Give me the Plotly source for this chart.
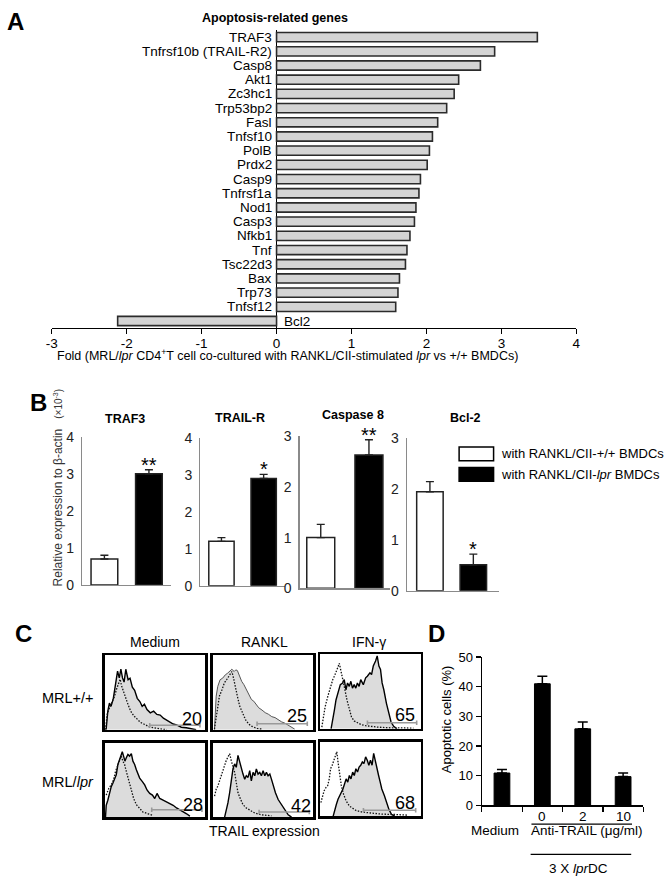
import plotly.graph_objects as go

W, H = 668, 888
FONT = "Liberation Sans, Arial, sans-serif"
NARROW = "Liberation Sans Narrow, Arial Narrow, Liberation Sans, sans-serif"


def px(x):
    return x / W


def py(y):
    return 1 - y / H


# ---------------- Panel A data ----------------
genes = ["TRAF3", "Tnfrsf10b (TRAIL-R2)", "Casp8", "Akt1", "Zc3hc1", "Trp53bp2", "Fasl",
         "Tnfsf10", "PolB", "Prdx2", "Casp9", "Tnfrsf1a", "Nod1", "Casp3", "Nfkb1", "Tnf",
         "Tsc22d3", "Bax", "Trp73", "Tnfsf12", "Bcl2"]
fold = [3.48, 2.91, 2.72, 2.43, 2.37, 2.27, 2.15, 2.08, 2.04, 2.01, 1.92, 1.90, 1.86, 1.84,
        1.78, 1.74, 1.72, 1.64, 1.62, 1.59, -2.12]
a_ticks = [-3, -2, -1, 0, 1, 2, 3, 4]

# ---------------- Panel B data ----------------
b_groups = ["TRAF3", "TRAIL-R", "Caspase 8", "Bcl-2"]
b_wt = [0.70, 1.20, 1.00, 1.94]
b_wt_err = [0.10, 0.10, 0.26, 0.20]
b_lpr = [3.00, 2.90, 2.63, 0.51]
b_lpr_err = [0.11, 0.11, 0.30, 0.21]
b_sig = ["**", "*", "**", "*"]
b_ymax = [4, 4, 3, 3]
b_legend = ["with RANKL/CII-+/+ BMDCs", "with RANKL/CII-<i>lpr</i> BMDCs"]

# ---------------- Panel C data (histogram outlines, % of box) ----------------
c_cols = ["Medium", "RANKL", "IFN-γ"]
c_rows = ["MRL+/+", "MRL/<i>lpr</i>"]
c_pct = [20, 25, 65, 28, 42, 68]

c_med_wt_solid_x = [1.6, 3.3, 4.9, 6.5, 8.8, 10.7, 13.0, 14.7, 16.3, 17.9, 19.5, 21.2, 23.5, 25.4, 27.7, 30.0, 32.6,
                    35.2, 37.5, 39.7, 42.3, 45.6, 48.9, 52.1, 55.4, 58.6, 61.9, 65.1, 68.4, 71.7, 76.5, 81.4, 86.3, 91.2]
c_med_wt_solid_y = [0, 24.9, 35.6, 31.3, 42.1, 59.2, 78.5, 69.5, 81.1, 69.5, 63.9, 81.1, 67.0, 69.1, 57.1, 52.8, 42.1,
                    37.8, 31.3, 34.3, 27.0, 22.7, 24.9, 20.6, 19.7, 15.5, 12.9, 11.2, 7.7, 6.4, 3.4, 2.6, 0.9, 0]
c_med_wt_dot_x = [1.0, 2.6, 4.9, 7.2, 9.8, 12.1, 14.0, 15.6, 16.9, 18.9, 21.2, 23.5, 26.1, 29.3, 32.6, 35.8, 39.1,
                  44.0, 48.9, 55.4, 61.9]
c_med_wt_dot_y = [0, 20.6, 29.2, 35.6, 44.2, 54.9, 63.5, 67.8, 59.2, 50.6, 42.1, 33.5, 24.9, 18.5, 14.2, 9.9, 7.7,
                  4.3, 2.6, 0.9, 0]

c_rankl_wt_solid_x = [1.6, 3.3, 4.9, 7.2, 9.8, 12.4, 14.7, 16.3, 18.9, 21.2, 22.8, 24.4, 26.7, 28.7, 30.9, 33.2, 35.8,
                      38.4, 40.7, 43.0, 45.6, 48.9, 52.1, 55.4, 58.6, 61.9, 65.1, 68.4, 71.7, 74.9, 78.2, 81.4]
c_rankl_wt_solid_y = [0, 44.9, 58.1, 67.0, 69.2, 73.6, 75.8, 78.0, 81.1, 78.0, 80.2, 79.3, 71.4, 64.8, 60.4, 53.7,
                      47.1, 40.5, 38.3, 33.9, 29.5, 26.4, 22.9, 20.7, 17.6, 16.3, 13.2, 10.6, 8.8, 6.2, 3.1, 0.9]
c_rankl_wt_dot_x = [1.6, 3.9, 6.5, 9.1, 11.4, 13.7, 15.6, 17.3, 18.9, 20.2, 22.1, 24.4, 26.7, 29.3, 32.6, 35.8,
                    39.1, 44.0, 48.9]
c_rankl_wt_dot_y = [0.9, 22.9, 44.9, 53.7, 62.6, 67.0, 71.4, 75.8, 78.0, 71.4, 58.1, 44.9, 31.7, 22.9, 13.2, 7.5,
                    4.4, 1.8, 0.9]

c_ifn_wt_solid_x = [10.8, 12.5, 14.1, 15.7, 18.0, 20.0, 22.3, 23.9, 25.6, 27.2, 28.9, 30.5, 32.1, 33.8, 35.4, 37.0,
                    38.7, 40.3, 42.9, 45.2, 46.9, 49.5, 51.1, 52.8, 55.1, 56.7, 58.4, 60.0, 61.6, 63.3, 65.9, 68.2,
                    70.5, 73.1, 76.4]
c_ifn_wt_solid_y = [0, 11.4, 25.0, 38.6, 50.0, 59.1, 61.4, 65.9, 52.3, 61.4, 56.8, 63.6, 54.5, 59.1, 54.5, 61.4,
                    56.8, 65.9, 59.1, 68.2, 70.5, 75.0, 72.7, 84.1, 90.9, 97.7, 84.1, 79.5, 61.4, 52.3, 34.1, 20.5,
                    9.1, 3.2, 0]
c_ifn_wt_dot_x = [1.6, 3.0, 4.9, 7.5, 10.2, 12.5, 14.1, 15.7, 17.4, 19.0, 20.7, 22.3, 23.9, 26.6, 28.9, 31.1, 33.8,
                  37.0, 40.3, 45.2, 50.2, 56.7, 66.6, 79.7, 92.8]
c_ifn_wt_dot_y = [2.3, 15.9, 29.5, 43.2, 56.8, 65.9, 70.5, 75.0, 81.8, 87.7, 75.0, 65.9, 56.8, 38.6, 25.0, 15.9,
                  10.5, 7.7, 5.9, 4.1, 3.2, 2.3, 1.4, 1.4, 0.9]

c_med_lpr_solid_x = [1.0, 1.7, 3.3, 5.0, 6.7, 8.3, 10.0, 11.7, 13.3, 15.0, 16.7, 17.7, 19.0, 20.3, 21.7, 23.3, 25.0,
                     26.7, 28.3, 30.0, 31.7, 33.3, 35.0, 37.7, 40.0, 42.3, 45.0, 47.7, 50.0, 52.3, 55.0, 58.3, 61.7,
                     65.0, 68.3, 71.7, 75.0, 78.3, 81.7, 85.0]
c_med_lpr_solid_y = [0, 15.9, 22.7, 34.1, 40.9, 45.5, 52.3, 56.8, 70.5, 77.3, 85.0, 87.7, 81.8, 75.0, 79.5, 84.1,
                     81.8, 85.0, 75.0, 70.5, 63.6, 59.1, 52.3, 47.7, 43.2, 36.4, 31.8, 29.5, 25.0, 31.8, 25.0, 22.7,
                     20.5, 18.2, 15.9, 12.3, 10.0, 6.8, 4.5, 1.4]
c_med_lpr_dot_x = [1.7, 4.3, 6.7, 9.0, 11.0, 13.3, 15.0, 16.7, 18.3, 20.0, 21.7, 24.3, 26.7, 29.0, 31.7, 35.0, 38.3,
                   43.3, 48.3]
c_med_lpr_dot_y = [29.5, 38.6, 43.2, 50.0, 61.4, 70.5, 77.3, 81.8, 75.0, 70.5, 61.4, 47.7, 34.1, 25.0, 16.8, 11.4,
                   6.8, 4.5, 2.3]

c_rankl_lpr_solid_x = [11.7, 13.3, 15.0, 16.7, 18.3, 20.0, 21.7, 23.3, 25.0, 26.7, 28.3, 30.0, 31.7, 33.3, 35.0,
                       36.7, 38.3, 40.0, 41.7, 43.3, 45.0, 46.7, 48.3, 50.0, 51.7, 53.3, 55.0, 56.7, 58.3, 60.0,
                       62.3, 65.0, 68.3, 71.7, 75.0, 78.3]
c_rankl_lpr_solid_y = [0, 7.7, 19.1, 32.7, 46.4, 64.5, 71.4, 66.8, 82.7, 73.6, 64.5, 57.7, 50.9, 55.5, 53.2, 62.3,
                       48.6, 60.0, 55.5, 64.5, 57.7, 60.0, 55.5, 62.3, 55.5, 60.0, 55.5, 57.7, 50.9, 41.8, 32.7,
                       23.6, 16.8, 10.0, 3.2, 0]
c_rankl_lpr_dot_x = [1.7, 3.3, 5.0, 6.7, 8.3, 10.0, 11.7, 13.3, 15.0, 16.7, 18.3, 20.0, 21.7, 23.3, 25.0, 27.7,
                     30.0, 33.3, 36.7, 41.7, 48.3, 58.3]
c_rankl_lpr_dot_y = [28.2, 37.3, 41.8, 48.6, 55.5, 64.5, 69.1, 75.9, 80.5, 85.0, 75.9, 69.1, 60.0, 46.4, 32.7, 23.6,
                     16.8, 12.3, 9.1, 5.5, 3.2, 1.8]

c_ifn_lpr_solid_x = [12.9, 14.5, 16.1, 17.7, 19.4, 21.0, 22.6, 24.2, 25.8, 27.4, 29.0, 30.6, 32.3, 33.9, 35.5, 37.1,
                     38.7, 40.3, 41.9, 43.5, 45.2, 46.8, 48.4, 50.0, 51.6, 53.2, 54.8, 56.5, 58.1, 59.7, 61.3, 63.9,
                     66.1, 68.4, 71.0, 74.2]
c_ifn_lpr_solid_y = [0, 9.1, 15.9, 22.7, 27.3, 31.8, 36.4, 43.2, 50.0, 45.5, 54.5, 50.0, 59.1, 54.5, 63.6, 59.1,
                     65.9, 68.2, 72.7, 70.5, 79.5, 75.0, 68.2, 75.0, 68.2, 84.1, 72.7, 65.9, 54.5, 45.5, 36.4, 27.3,
                     18.2, 9.1, 2.3, 0]
c_ifn_lpr_dot_x = [0.6, 2.3, 3.9, 5.8, 7.4, 9.0, 10.3, 11.9, 13.5, 15.2, 16.5, 17.7, 19.4, 21.0, 23.2, 25.8, 29.0,
                   32.3, 35.5, 41.9, 51.6, 61.3, 74.2, 87.1]
c_ifn_lpr_dot_y = [18.2, 27.3, 34.1, 38.6, 40.9, 50.0, 63.6, 68.2, 75.0, 84.1, 86.4, 72.7, 54.5, 40.9, 29.5, 20.5,
                   13.6, 10.0, 7.7, 5.5, 3.6, 2.7, 2.3, 1.4]

c_gate_start = [45, 44, 47, 47, 46, 43]
c_gate_end = [95, 94, 96, 97, 96, 95]
c_gate_level = [6, 8, 8, 10, 7, 8]

# ---------------- Panel D data ----------------
d_labels = ["Medium", "0", "2", "10"]
d_vals = [10.9, 41.0, 25.8, 9.7]
d_err = [1.2, 2.5, 2.3, 1.2]
d_yticks = [0, 10, 20, 30, 40, 50]

fig = go.Figure()
annotations = []
shapes = []
layout_axes = {}


def ann(text, x, y, size=13, bold=False, xanchor="center", yanchor="middle", xref="paper", yref="paper",
        angle=0, color="black", xshift=0, yshift=0, family=FONT):
    if bold:
        text = "<b>" + text + "</b>"
    annotations.append(dict(text=text, x=x, y=y, xref=xref, yref=yref, showarrow=False,
                            xanchor=xanchor, yanchor=yanchor, textangle=angle, xshift=xshift, yshift=yshift,
                            font=dict(family=family, size=size, color=color)))


# ================= Panel A =================
idx = list(range(len(genes)))
fig.add_trace(go.Bar(x=fold, y=idx, orientation="h", width=0.65,
                     marker=dict(color="#d4d4d4", line=dict(color="#2b2b2b", width=1.6)),
                     xaxis="x", yaxis="y", showlegend=False, hoverinfo="skip"))
layout_axes["xaxis"] = dict(domain=[px(46.4), px(579)], range=[-3, 4], tickvals=a_ticks,
                            ticktext=[str(t) for t in a_ticks], ticks="outside", ticklen=5, tickwidth=1.3,
                            tickcolor="black", showline=True, linecolor="black", linewidth=1.3,
                            zeroline=True, zerolinecolor="black", zerolinewidth=1.5, showgrid=False,
                            tickfont=dict(family=FONT, size=13.5), anchor="y", ticklabelstandoff=-3)
layout_axes["yaxis"] = dict(domain=[py(326), py(22)], range=[20.5, -0.53], visible=False, anchor="x",
                            showgrid=False, zeroline=False)
for i, g in enumerate(genes):
    if fold[i] >= 0:
        ann(g, 0, i, size=13.5, xanchor="right", xref="x", yref="y", xshift=-3)
    else:
        ann(g, 0, i, size=13.5, xanchor="left", xref="x", yref="y", xshift=5)
ann("A", px(10), py(14), size=24, bold=True)
ann("Apoptosis-related genes", px(273.5), py(10), size=12.5, bold=True)
ann("Fold (MRL/<i>lpr</i> CD4<sup>+</sup>T cell co-cultured with RANKL/CII-stimulated <i>lpr</i> vs +/+ BMDCs)",
    px(286), py(353), size=12.5)

# ================= Panel B =================
b_xdom = [(77.3, 167.7), (197.3, 283), (298, 390), (407, 500)]
b_xrng = [(-0.5, 1.5), (-0.5, 1.5), (-0.44, 1.44), (-0.53, 1.58)]
b_ypx = [(436.7, 587.5), (437.7, 588.3), (436, 591), (437.7, 593.5)]
b_bw = [0.6, 0.6, 0.58, 0.61]
b_title_pos = [(121, 419), (238, 418), (352, 414), (466, 418)]
for k in range(4):
    n = k + 2
    xa, ya = "x%d" % n, "y%d" % n
    fig.add_trace(go.Bar(x=[0, 1], y=[b_wt[k], b_lpr[k]], width=b_bw[k],
                         marker=dict(color=["white", "black"], line=dict(color="#222", width=1.5)),
                         error_y=dict(type="data", symmetric=False, array=[b_wt_err[k], b_lpr_err[k]],
                                      arrayminus=[0, 0], width=4, thickness=1.4, color="#222"),
                         xaxis=xa, yaxis=ya, showlegend=False, hoverinfo="skip"))
    layout_axes["xaxis%d" % n] = dict(domain=[px(b_xdom[k][0]), px(b_xdom[k][1])], range=list(b_xrng[k]),
                                      showline=True, linecolor="#8a8a8a", linewidth=1.2, showticklabels=False,
                                      ticks="", showgrid=False, zeroline=False, anchor=ya)
    layout_axes["yaxis%d" % n] = dict(domain=[py(b_ypx[k][1]), py(b_ypx[k][0])], range=[0, b_ymax[k]],
                                      tickvals=list(range(b_ymax[k] + 1)), showline=True, linecolor="#8a8a8a",
                                      linewidth=1.2, ticks="", showgrid=False, zeroline=False,
                                      tickfont=dict(family=FONT, size=14, color="#222"), anchor=xa,
                                      ticklabelstandoff=4)
    ann(b_groups[k], px(b_title_pos[k][0]), py(b_title_pos[k][1]), size=12.5, bold=True)
    ann(b_sig[k], 1, b_lpr[k] + b_lpr_err[k], size=20, xref=xa, yref=ya, yanchor="bottom", yshift=-8)

ann("B", px(33), py(402), size=24, bold=True)
ann("Relative expression to β-actin   <span style='font-size:10px'>(×10<sup>-3</sup>)</span>",
    px(53), py(488), size=12, angle=-90, color="#333", family=NARROW)
# legend keys
for j, (col, yc) in enumerate([("white", 454), ("black", 475)]):
    shapes.append(dict(type="rect", xref="paper", yref="paper", x0=px(460), x1=px(495),
                       y0=py(yc + 7), y1=py(yc - 7), fillcolor=col, line=dict(color="black", width=1.5)))
    ann(b_legend[j], px(500), py(yc), size=13, xanchor="left")

# ================= Panel C =================
c_box = [(100, 659), (210, 659), (319, 658), (100, 748), (210, 748), (319, 747)]
c_solid = [(c_med_wt_solid_x, c_med_wt_solid_y), (c_rankl_wt_solid_x, c_rankl_wt_solid_y),
           (c_ifn_wt_solid_x, c_ifn_wt_solid_y), (c_med_lpr_solid_x, c_med_lpr_solid_y),
           (c_rankl_lpr_solid_x, c_rankl_lpr_solid_y), (c_ifn_lpr_solid_x, c_ifn_lpr_solid_y)]
c_dot = [(c_med_wt_dot_x, c_med_wt_dot_y), (c_rankl_wt_dot_x, c_rankl_wt_dot_y),
         (c_ifn_wt_dot_x, c_ifn_wt_dot_y), (c_med_lpr_dot_x, c_med_lpr_dot_y),
         (c_rankl_lpr_dot_x, c_rankl_lpr_dot_y), (c_ifn_lpr_dot_x, c_ifn_lpr_dot_y)]
c_solid_style = [("black", 1.4), ("#555555", 1.0), ("black", 1.4), ("black", 1.4), ("black", 1.4), ("black", 1.4)]
c_pct_pos = [(87, 15), (84, 18), (84, 18), (88, 16), (88, 15), (84, 17)]
for k in range(6):
    n = k + 6
    xa, ya = "x%d" % n, "y%d" % n
    bx, by = c_box[k]
    sx, sy = c_solid[k]
    fig.add_trace(go.Scatter(x=sx, y=sy, mode="lines", fill="tozeroy", fillcolor="#dcdcdc",
                             line=dict(color=c_solid_style[k][0], width=c_solid_style[k][1]),
                             xaxis=xa, yaxis=ya, showlegend=False, hoverinfo="skip"))
    dx, dy = c_dot[k]
    fig.add_trace(go.Scatter(x=dx, y=dy, mode="lines", line=dict(color="#111", width=1.3, dash="1.5px,1.5px"),
                             xaxis=xa, yaxis=ya, showlegend=False, hoverinfo="skip"))
    g0, g1, gl = c_gate_start[k], c_gate_end[k], c_gate_level[k]
    fig.add_trace(go.Scatter(x=[g0, g0, g0, g1, g1, g1], y=[gl + 3, gl - 3, gl, gl, gl + 3, gl - 3],
                             mode="lines", line=dict(color="#9a9a9a", width=1.6),
                             xaxis=xa, yaxis=ya, showlegend=False, hoverinfo="skip"))
    layout_axes["xaxis%d" % n] = dict(domain=[px(bx), px(bx + 102)], range=[0, 100], showline=True,
                                      mirror=True, linecolor="black", linewidth=2.6, showticklabels=False,
                                      ticks="", showgrid=False, zeroline=False, anchor=ya)
    layout_axes["yaxis%d" % n] = dict(domain=[py(by + 76), py(by)], range=[0, 100], showline=True,
                                      mirror=True, linecolor="black", linewidth=2.6, showticklabels=False,
                                      ticks="", showgrid=False, zeroline=False, anchor=xa)
    ann(str(c_pct[k]), c_pct_pos[k][0], c_pct_pos[k][1], size=18, xref=xa, yref=ya)

ann("C", px(18), py(637), size=24, bold=True)
for j, t in enumerate(c_cols):
    ann(t, px([151, 262, 369][j]), py(646), size=14)
ann(c_rows[0], px(63), py(703), size=14.5)
ann(c_rows[1], px(63), py(788), size=14.5)
ann("TRAIL expression", px(262), py(838), size=14)

# ================= Panel D =================
d_x = list(range(len(d_vals)))
fig.add_trace(go.Bar(x=d_x, y=d_vals, width=0.39, marker=dict(color="black", line=dict(color="black", width=1)),
                     error_y=dict(type="data", symmetric=False, array=d_err, arrayminus=[0] * len(d_err),
                                  width=5, thickness=1.5, color="black"),
                     xaxis="x12", yaxis="y12", showlegend=False, hoverinfo="skip"))
layout_axes["xaxis12"] = dict(domain=[px(483), px(647)], range=[-0.5, 3.5],
                              tickvals=[-0.5, 0.5, 1.5, 2.5, 3.5], showticklabels=False, ticks="outside",
                              ticklen=5, tickwidth=1.2, tickcolor="black", showline=True, linecolor="black",
                              linewidth=1.2, showgrid=False, zeroline=False, anchor="y12")
layout_axes["yaxis12"] = dict(domain=[py(812), py(661)], range=[0, 50], tickvals=d_yticks, ticks="outside",
                              ticklen=5, tickwidth=1.2, tickcolor="black", showline=True, linecolor="black",
                              linewidth=1.2, showgrid=False, zeroline=False, anchor="x12",
                              tickfont=dict(family=FONT, size=13))
ann("D", px(437), py(637), size=24, bold=True)
ann("Apoptotic cells (%)", px(448), py(724), size=13, angle=-90)
for i in range(1, 4):
    ann(d_labels[i], i, py(823), size=13.5, xref="x12")
ann(d_labels[0], -0.17, py(838), size=13.5, xref="x12")
ann("Anti-TRAIL (μg/ml)", 2.1, py(838), size=13.5, xref="x12")
ann("3 X <i>lpr</i>DC", 1.9, py(876), size=13.5, xref="x12")
shapes.append(dict(type="line", xref="x12", yref="paper", x0=0.73, x1=3.22, y0=py(831), y1=py(831),
                   line=dict(color="black", width=1.2)))
shapes.append(dict(type="line", xref="x12", yref="paper", x0=0.71, x1=3.2, y0=py(862), y1=py(862),
                   line=dict(color="black", width=1.2)))

fig.update_layout(width=W, height=H, margin=dict(l=0, r=0, t=0, b=0), paper_bgcolor="white",
                  plot_bgcolor="white", showlegend=False, annotations=annotations, shapes=shapes,
                  font=dict(family=FONT, color="black"), bargap=0, hovermode=False, **layout_axes)

fig.write_html("out.html", config={"displayModeBar": False, "staticPlot": True},
               post_script="document.body.style.margin='0';")
